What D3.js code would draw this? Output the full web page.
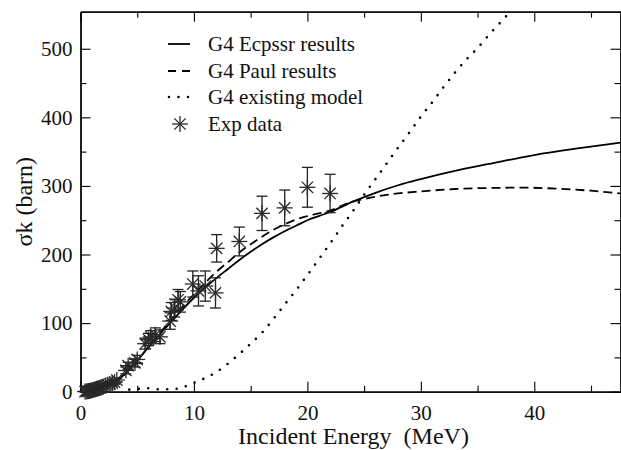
<!DOCTYPE html>
<html>
<head>
<meta charset="utf-8">
<script src="https://cdn.jsdelivr.net/npm/d3@7/dist/d3.min.js"></script>
<style>
  body { margin: 0; background: #fff; }
  svg { display: block; }
  svg text { font-family: "Liberation Serif", "Tinos", "Times New Roman", Times, "Nimbus Roman", "DejaVu Serif", "Noto Serif", serif; }
</style>
</head>
<body>
<svg id="chart" width="621" height="450"></svg>
<script>
// ─── Data ────────────────────────────────────────────────────────────
// G4 Ecpssr results (solid)
const ecpssrX = [0.5, 1, 1.5, 2, 2.5, 3, 4, 5, 6, 7, 8, 9, 10, 11, 12, 13, 14, 15, 16, 17, 18, 19, 20, 21, 22, 24, 26, 28, 30, 33, 36, 40, 44, 47.6];
const ecpssrY = [0, 1, 3, 5, 8, 13, 27, 45, 65, 84, 102, 120, 137, 152, 166, 179, 192, 204, 215, 225, 234, 242, 250, 256, 262, 277, 290, 301, 310, 322, 332, 345, 355, 363];

// G4 Paul results (dashed)
const paulX = [0.5, 1, 1.5, 2, 2.5, 3, 4, 5, 6, 7, 8, 9, 10, 11, 12, 13, 14, 15, 16, 17, 18, 19, 20, 21, 22, 23, 24, 25, 27, 30, 33, 36, 39, 42, 45, 47.6];
const paulY = [0, 1, 3, 5, 8, 13, 27, 45, 66, 86, 105, 124, 142, 159, 175, 189, 203, 215, 226, 236, 244, 251, 256, 260, 264, 271, 277, 281, 287, 292, 295.5, 297, 297.5, 296, 293, 289];

// G4 existing model (dotted)
const existingX = [4.3, 5, 6, 7, 8, 9, 10, 11, 12, 13, 14, 15, 16, 17, 18, 19, 20, 21, 22, 23, 24, 25, 26, 27, 28, 29, 30, 31, 32, 33, 34, 35, 36, 37, 38];
const existingY = [3, 4, 5, 3.5, 3.5, 6.5, 13, 20, 29, 41, 55, 70, 86, 106, 127, 148, 170, 193, 216, 240, 263, 287, 310, 333, 356, 378, 401, 422, 444, 465, 484, 501, 520, 538, 556];

// Exp data with error bars
const expX = [0.4, 0.5, 0.6, 0.7, 0.8, 0.9, 1.0, 1.1, 1.2, 1.3, 1.4, 1.5, 1.6, 1.7, 1.8, 1.9, 2.0, 2.2, 2.4, 2.6, 2.8, 3.0, 3.2,
              4.0, 4.2, 4.8, 5.0, 5.7, 6.0, 6.2, 6.6, 7.0, 7.9, 8.0, 8.3, 8.6, 8.8,
              9.9, 10.4, 11.0, 11.9, 12.0, 14.0, 16.0, 18.0, 20.0, 22.0];
const expY = [0.2, 0.3, 0.5, 0.8, 1.2, 1.5, 2, 2.5, 3, 3.5, 4, 4.5, 5, 5.5, 6, 7, 7.5, 9, 10, 11, 12.5, 14, 17,
              31, 38, 42, 47, 70, 76, 80, 83, 80, 103, 117, 122, 134, 131,
              157, 147, 154, 144, 209, 219, 260, 268, 298, 289];
const expErr = [0.5, 0.5, 0.5, 1, 1, 1, 1, 1, 1, 1, 1, 1.5, 1.5, 1.5, 1.5, 2, 2, 2, 2, 2.5, 2.5, 3, 3,
                5, 5, 6, 6, 8, 9, 9, 10, 10, 12, 13, 13, 15, 15,
                19, 22, 22, 22, 20, 21, 25, 26, 29, 28];

const xMajorTicks = [0, 10, 20, 30, 40];
const xMinorTicks = [5, 15, 25, 35, 45];
const yMajorTicks = [0, 100, 200, 300, 400, 500];
const yMinorTicks = [50, 150, 250, 350, 450];

const legendLabels = ["G4 Ecpssr results", "G4 Paul results", "G4 existing model", "Exp data"];

// ─── Layout ──────────────────────────────────────────────────────────
const width = 621, height = 450;
const plot = { left: 80.5, right: 620.5, top: 11.7, bottom: 391.7 };

const svg = d3.select("#chart");

const x = d3.scaleLinear().domain([0, 47.6]).range([plot.left, plot.right]);
const y = d3.scaleLinear().domain([0, 554]).range([plot.bottom, plot.top]);

svg.append("rect").attr("width", width).attr("height", height).attr("fill", "#fff");

svg.append("defs").append("clipPath").attr("id", "plotClip")
  .append("rect")
  .attr("x", plot.left).attr("y", plot.top)
  .attr("width", plot.right - plot.left).attr("height", plot.bottom - plot.top);

// ─── Axes (ticks inward on all four sides) ───────────────────────────
function styleAxis(sel) {
  sel.attr("font-family", null);
  sel.select(".domain").attr("stroke", "#000").attr("stroke-width", 1.3);
  sel.selectAll(".tick line").attr("stroke", "#000").attr("stroke-width", 1.1);
  sel.selectAll(".tick text")
    .attr("font-size", 21)
    .attr("fill", "#111");
}

// bottom
svg.append("g").attr("transform", `translate(0,${plot.bottom})`)
  .call(d3.axisBottom(x).tickValues(xMinorTicks).tickSize(-6).tickSizeOuter(0).tickFormat(""))
  .call(styleAxis);
svg.append("g").attr("transform", `translate(0,${plot.bottom})`)
  .call(d3.axisBottom(x).tickValues(xMajorTicks).tickSize(-10).tickSizeOuter(0).tickPadding(13).tickFormat(d3.format("d")))
  .call(styleAxis);
// top
svg.append("g").attr("transform", `translate(0,${plot.top})`)
  .call(d3.axisTop(x).tickValues(xMinorTicks).tickSize(-6).tickSizeOuter(0).tickFormat(""))
  .call(styleAxis);
svg.append("g").attr("transform", `translate(0,${plot.top})`)
  .call(d3.axisTop(x).tickValues(xMajorTicks).tickSize(-10).tickSizeOuter(0).tickFormat(""))
  .call(styleAxis);
// left
svg.append("g").attr("transform", `translate(${plot.left},0)`)
  .call(d3.axisLeft(y).tickValues(yMinorTicks).tickSize(-6).tickSizeOuter(0).tickFormat(""))
  .call(styleAxis);
svg.append("g").attr("transform", `translate(${plot.left},0)`)
  .call(d3.axisLeft(y).tickValues(yMajorTicks).tickSize(-10).tickSizeOuter(0).tickPadding(8).tickFormat(d3.format("d")))
  .call(styleAxis);
// right
svg.append("g").attr("transform", `translate(${plot.right},0)`)
  .call(d3.axisRight(y).tickValues(yMinorTicks).tickSize(-6).tickSizeOuter(0).tickFormat(""))
  .call(styleAxis);
svg.append("g").attr("transform", `translate(${plot.right},0)`)
  .call(d3.axisRight(y).tickValues(yMajorTicks).tickSize(-10).tickSizeOuter(0).tickFormat(""))
  .call(styleAxis);

// ─── Axis titles ─────────────────────────────────────────────────────
svg.append("text")
  .attr("x", (plot.left + plot.right) / 2 + 3)
  .attr("y", 444)
  .attr("text-anchor", "middle")
  .attr("font-size", 24)
  .attr("fill", "#111")
  .style("white-space", "pre")
  .text("Incident Energy  (MeV)");

svg.append("text")
  .attr("transform", `translate(32,${(plot.top + plot.bottom) / 2}) rotate(-90)`)
  .attr("text-anchor", "middle")
  .attr("font-size", 24)
  .attr("fill", "#111")
  .text("σk (barn)");

// ─── Curves ──────────────────────────────────────────────────────────
const lineGen = d3.line().x((d) => x(d[0])).y((d) => y(d[1])).curve(d3.curveMonotoneX);
const curves = svg.append("g").attr("clip-path", "url(#plotClip)");

const series = [
  { xs: existingX, ys: existingY, dash: "0 9.5", width: 2.6, cap: "round" },
  { xs: paulX, ys: paulY, dash: "9 5", width: 1.8, cap: "butt" },
  { xs: ecpssrX, ys: ecpssrY, dash: null, width: 1.8, cap: "butt" },
];
series.forEach((s) => {
  curves.append("path")
    .datum(s.xs.map((v, i) => [v, s.ys[i]]))
    .attr("fill", "none")
    .attr("stroke", "#000")
    .attr("stroke-width", s.width)
    .attr("stroke-linecap", s.cap)
    .attr("stroke-dasharray", s.dash)
    .attr("d", lineGen);
});

// ─── Experimental points (not clipped: stars near 0 spill over the axis) ──
function drawStar(g, cx, cy, r) {
  const d = r * Math.SQRT1_2;
  const segs = [[-r, 0, r, 0], [0, -r, 0, r], [-d, -d, d, d], [-d, d, d, -d]];
  segs.forEach(([x1, y1, x2, y2]) => {
    g.append("line")
      .attr("x1", cx + x1).attr("y1", cy + y1)
      .attr("x2", cx + x2).attr("y2", cy + y2)
      .attr("stroke", "#2a2a2a").attr("stroke-width", 1.3);
  });
}

const pts = svg.append("g");
expX.forEach((xv, i) => {
  const cx = x(xv);
  const yTop = y(expY[i] + expErr[i]);
  const yBot = y(expY[i] - expErr[i]);
  pts.append("line").attr("x1", cx).attr("x2", cx).attr("y1", yTop).attr("y2", yBot)
    .attr("stroke", "#222").attr("stroke-width", 1.3);
  [yTop, yBot].forEach((yy) => {
    pts.append("line").attr("x1", cx - 5.5).attr("x2", cx + 5.5).attr("y1", yy).attr("y2", yy)
      .attr("stroke", "#222").attr("stroke-width", 1.3);
  });
  drawStar(pts, cx, y(expY[i]), 8);
});

// ─── Legend ──────────────────────────────────────────────────────────
const legend = svg.append("g");
const rowBase = [51, 78, 104, 131];
legendLabels.forEach((label, i) => {
  const ly = rowBase[i] - 7;
  if (i < 3) {
    const s = series[2 - i];
    legend.append("line")
      .attr("x1", i === 2 ? 169 : 168).attr("x2", 190)
      .attr("y1", ly).attr("y2", ly)
      .attr("stroke", "#000")
      .attr("stroke-width", s.width)
      .attr("stroke-linecap", s.cap)
      .attr("stroke-dasharray", i === 1 ? "8 6" : s.dash);
  } else {
    drawStar(legend, 180, ly, 8);
  }
  legend.append("text")
    .attr("x", 208).attr("y", rowBase[i])
    .attr("font-size", 21)
    .attr("fill", "#111")
    .text(label);
});
</script>
</body>
</html>
